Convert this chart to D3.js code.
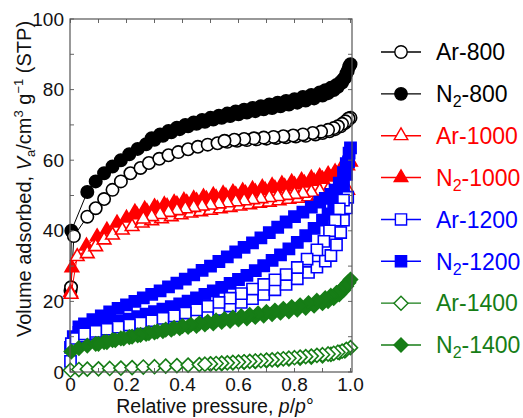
<!DOCTYPE html>
<html><head><meta charset="utf-8">
<script src="https://cdn.jsdelivr.net/npm/d3@7"></script>
<style>body{margin:0;background:#fff}text{font-family:Arial,"Liberation Sans",sans-serif}</style>
</head><body><svg id="c" width="523" height="418"></svg>
<script>
// ---- data ----
const xTicks=[0,0.2,0.4,0.6,0.8,1.0];
const xTickLabels=["0","0.2","0.4","0.6","0.8","1.0"];
const yTicks=[0,20,40,60,80,100];
const yTickLabels=["0","20","40","60","80","100"];
const xMinorTicks=[0,0.1,0.2,0.3,0.4,0.5,0.6,0.7,0.8,0.9,1.0];
const yMinorTicks=[0,10,20,30,40,50,60,70,80,90,100];

const n2_800Ads=[[0.0,23],[0.003,40],[0.06,51],[0.09,54],[0.12,56.3],[0.15,58.2],[0.18,60],[0.21,61.7],[0.24,63.2],[0.27,64.5],[0.3,65.8],[0.33,66.9],[0.36,67.9],[0.39,68.8],[0.42,69.6],[0.45,70.3],[0.48,70.9],[0.51,71.5],[0.54,72],[0.57,72.5],[0.6,73],[0.63,73.5],[0.66,73.9],[0.69,74.4],[0.72,74.8],[0.75,75.3],[0.78,75.8],[0.81,76.3],[0.84,76.9],[0.87,77.5],[0.9,78.3],[0.92,79],[0.94,79.9],[0.955,80.8],[0.97,82],[0.98,83.3],[0.99,85.3],[1.0,87.2]];
const n2_800Des=[[0.995,86.5],[0.985,84.5],[0.975,83],[0.965,82.2],[0.95,81.3],[0.93,80.5],[0.91,79.8],[0.89,79.2],[0.86,78.5],[0.83,77.9],[0.8,77.3],[0.77,76.8],[0.74,76.3],[0.71,75.8],[0.68,75.3],[0.65,74.8],[0.62,74.3],[0.59,73.8],[0.56,73.2],[0.53,72.6],[0.5,72],[0.47,71.4],[0.44,70.7],[0.41,70],[0.38,69.2],[0.35,68.3],[0.32,67.3],[0.29,66.2]];
const ar800Ads=[[0.002,24],[0.012,38.5],[0.06,44],[0.09,46.4],[0.12,49],[0.15,51.6],[0.18,54],[0.214,56.3],[0.25,57.8],[0.28,59.2],[0.317,60.4],[0.35,61.4],[0.385,62.3],[0.42,63.1],[0.455,63.8],[0.49,64.4],[0.525,64.8],[0.56,65.2],[0.595,65.5],[0.63,65.7],[0.665,65.9],[0.7,66.1],[0.735,66.3],[0.77,66.5],[0.805,66.7],[0.84,66.9],[0.875,67.3],[0.9,67.7],[0.925,68.2],[0.945,68.8],[0.965,69.6],[0.98,70.5],[0.99,71.2],[1.0,72]];
const ar800Des=[[0.993,71.8],[0.982,71],[0.97,70.3],[0.955,69.6],[0.94,69.1],[0.92,68.6],[0.895,68.1],[0.865,67.7],[0.83,67.3],[0.795,67],[0.76,66.8],[0.725,66.6],[0.69,66.4],[0.655,66.2],[0.62,66],[0.585,65.8],[0.55,65.5]];

const n2_1000Ads=[[0.0,22.5],[0.005,29.5],[0.057,35.7],[0.095,38.3],[0.13,40.2],[0.166,42.2],[0.2,43.6],[0.237,44.5],[0.273,45.4],[0.31,46.3],[0.345,46.9],[0.38,47.5],[0.415,48],[0.45,48.5],[0.485,49],[0.52,49.4],[0.555,49.8],[0.59,50.2],[0.625,50.6],[0.66,51],[0.695,51.5],[0.73,52],[0.765,52.5],[0.8,53],[0.835,53.5],[0.87,54],[0.9,54.6],[0.925,55.2],[0.95,56],[0.97,57],[0.99,58.4],[1.0,59.5]];
const n2_1000Des=[[0.985,58.6],[0.965,57.5],[0.945,56.7],[0.92,56],[0.89,55.4],[0.86,54.9],[0.825,54.3],[0.79,53.8],[0.755,53.3],[0.72,52.8],[0.685,52.3],[0.65,51.8],[0.615,51.3],[0.58,50.9],[0.545,50.5],[0.51,50.1],[0.475,49.6],[0.44,49.1],[0.405,48.6],[0.37,48],[0.335,47.4],[0.3,46.8],[0.265,46.1],[0.23,45.3]];
const ar1000Ads=[[0.002,22],[0.024,32.7],[0.06,33.5],[0.09,35.5],[0.12,37.4],[0.15,38.8],[0.185,40.2],[0.22,41.2],[0.256,42.2],[0.29,42.8],[0.325,43.4],[0.36,44],[0.395,44.5],[0.43,45],[0.465,45.4],[0.5,45.8],[0.535,46.2],[0.57,46.6],[0.605,47],[0.64,47.4],[0.675,47.8],[0.71,48.1],[0.745,48.5],[0.78,48.9],[0.815,49.2],[0.85,49.6],[0.885,50],[0.915,50.4],[0.945,50.8],[0.97,51.2],[0.99,51.5]];
const ar1000Des=[[0.975,52],[0.95,51.8],[0.92,51.5],[0.89,51.2],[0.86,50.9],[0.83,50.6],[0.8,50.3],[0.77,50],[0.74,49.7],[0.71,49.4],[0.68,49.1],[0.65,48.8],[0.62,48.5],[0.59,48.2],[0.56,47.9],[0.53,47.6],[0.5,47.3],[0.47,47],[0.44,46.6],[0.41,46.2],[0.38,45.7],[0.35,45.2],[0.32,44.6],[0.29,44],[0.26,43.3]];

const n2_1200Ads=[[0.0,7],[0.01,10],[0.03,11.2],[0.06,12],[0.09,12.6],[0.12,13.2],[0.15,13.8],[0.18,14.4],[0.21,15],[0.24,15.7],[0.27,16.4],[0.3,17.1],[0.33,17.8],[0.36,18.5],[0.39,19.3],[0.42,20.1],[0.45,21],[0.48,22],[0.51,23],[0.54,24],[0.57,25.1],[0.6,26.2],[0.63,27.4],[0.66,28.7],[0.69,30.1],[0.72,31.6],[0.75,33.2],[0.78,34.9],[0.81,36.7],[0.84,38.6],[0.87,40.7],[0.9,43],[0.92,44.8],[0.94,47],[0.96,50],[0.975,53],[0.985,56],[0.993,59.5],[1.0,63.5]];
const n2_1200Des=[[0.995,62],[0.985,59],[0.975,56.5],[0.96,53.5],[0.945,51.5],[0.93,50.3],[0.91,49.2],[0.89,48.1],[0.86,46.7],[0.83,45.3],[0.8,44],[0.77,42.5],[0.74,41],[0.71,39.5],[0.68,38],[0.65,36.6],[0.62,35.3],[0.59,34],[0.56,32.6],[0.53,31.3],[0.5,30],[0.47,28.8],[0.44,27.5],[0.41,26.3],[0.38,25.2],[0.35,24.1],[0.32,23],[0.29,22],[0.26,21],[0.23,20],[0.2,19],[0.17,18],[0.14,17],[0.11,15.9],[0.08,14.8],[0.05,13.6],[0.03,12.8]];
const ar1200Ads=[[0.0,3],[0.003,8],[0.02,9.5],[0.05,10.2],[0.09,10.9],[0.13,11.4],[0.17,12],[0.21,12.5],[0.25,13],[0.29,13.5],[0.33,14],[0.37,14.6],[0.41,15.2],[0.45,16],[0.49,16.8],[0.53,17.7],[0.57,18.7],[0.61,19.7],[0.65,20.8],[0.69,22],[0.73,23.3],[0.77,24.8],[0.81,26.4],[0.85,28.2],[0.88,29.7],[0.91,31.4],[0.93,33],[0.95,36],[0.965,39.5],[0.975,43],[0.985,46.5],[0.99,49.5]];
const ar1200Des=[[0.975,48.7],[0.96,46.2],[0.945,43],[0.925,40],[0.905,37],[0.88,34.6],[0.845,32],[0.81,29.6],[0.77,27.6],[0.73,26.1],[0.69,24.8],[0.65,23.5],[0.61,22.2],[0.57,20.9],[0.53,19.7],[0.49,18.6],[0.45,17.6],[0.41,16.7],[0.37,15.9],[0.33,15.2],[0.29,14.5],[0.25,13.9],[0.21,13.3],[0.17,12.7],[0.13,12.1],[0.09,11.5],[0.05,10.8]];

const n2_1400Ads=[[0.003,5.8],[0.03,6.8],[0.06,7.5],[0.09,8],[0.12,8.5],[0.15,9],[0.18,9.5],[0.21,9.9],[0.24,10.4],[0.27,10.8],[0.3,11.2],[0.33,11.6],[0.36,12],[0.39,12.4],[0.42,12.8],[0.45,13.1],[0.48,13.5],[0.51,13.8],[0.54,14.2],[0.57,14.5],[0.6,14.9],[0.63,15.2],[0.66,15.6],[0.69,16],[0.72,16.4],[0.75,16.8],[0.78,17.2],[0.81,17.7],[0.84,18.2],[0.87,18.8],[0.9,19.5],[0.92,20.1],[0.94,20.9],[0.96,22],[0.975,23.2],[0.985,24.3],[0.993,25.3],[1.0,26.2]];
const n2_1400Des=[[0.99,25.3],[0.98,24.3],[0.965,23.2],[0.95,22.4],[0.93,21.6],[0.91,20.9],[0.88,20.2],[0.85,19.5],[0.82,18.9],[0.79,18.4],[0.76,17.9],[0.73,17.4],[0.7,17],[0.67,16.6],[0.64,16.2],[0.61,15.8],[0.58,15.4],[0.55,15],[0.52,14.6],[0.49,14.2],[0.46,13.8],[0.43,13.4],[0.4,13],[0.37,12.5],[0.34,12],[0.31,11.5],[0.28,11],[0.25,10.5],[0.22,10],[0.19,9.5],[0.16,9],[0.13,8.5],[0.1,8]];
const ar1400Ads=[[0.0,0.5],[0.03,0.7],[0.06,0.8],[0.1,0.9],[0.14,1.0],[0.18,1.1],[0.22,1.25],[0.26,1.4],[0.3,1.5],[0.34,1.65],[0.38,1.8],[0.42,1.95],[0.46,2.1],[0.5,2.25],[0.54,2.4],[0.58,2.6],[0.62,2.8],[0.66,3.0],[0.7,3.2],[0.74,3.45],[0.78,3.7],[0.82,3.95],[0.86,4.25],[0.9,4.6],[0.93,5.0],[0.96,5.5],[0.98,6.0],[1.0,6.9]];
const ar1400Des=[[0.985,6.4],[0.97,5.9],[0.955,5.6],[0.94,5.3],[0.92,5.1],[0.9,4.9],[0.88,4.7],[0.86,4.5],[0.84,4.35],[0.82,4.2],[0.8,4.05],[0.78,3.9],[0.76,3.75],[0.74,3.6],[0.72,3.45],[0.7,3.35],[0.68,3.2],[0.66,3.1],[0.64,3.0],[0.62,2.9],[0.6,2.8],[0.58,2.7],[0.56,2.6],[0.54,2.5],[0.52,2.4],[0.5,2.3],[0.48,2.2]];

const seriesNames=["Ar-800","N2-800","Ar-1000","N2-1000","Ar-1200","N2-1200","Ar-1400","N2-1400"];
const seriesColors=["#000000","#000000","#ff0000","#ff0000","#0000ff","#0000ff","#167d16","#167d16"];
const seriesShapes=["circle","circle","triangle","triangle","square","square","diamond","diamond"];
const seriesFilled=[false,true,false,true,false,true,false,true];
const seriesData=[ar800Ads.concat(ar800Des),n2_800Ads.concat(n2_800Des),ar1000Ads.concat(ar1000Des),n2_1000Ads.concat(n2_1000Des),ar1200Ads.concat(ar1200Des),n2_1200Ads.concat(n2_1200Des),ar1400Ads.concat(ar1400Des),n2_1400Ads.concat(n2_1400Des)];
const drawOrder=[1,0,3,2,5,4,7,6];

// ---- chart ----
const svg=d3.select("#c");
const x=d3.scaleLinear().domain([0,1]).range([70.5,350.5]);
const y=d3.scaleLinear().domain([0,100]).range([372,19]);
const frameL=70,frameR=352,frameT=19,frameB=372;

function shapePath(shape){
  if(shape==="circle") return "M6.2,0A6.2,6.2 0 1,1 -6.2,0A6.2,6.2 0 1,1 6.2,0Z";
  if(shape==="square") return "M-5.6,-5.6H5.6V5.6H-5.6Z";
  if(shape==="triangle") return "M0,-7.8L6.8,3.9L-6.8,3.9Z";
  return "M0,-7L7,0L0,7L-7,0Z";
}

const plot=svg.append("g");
const tg=svg.append("g").attr("stroke","#666").attr("stroke-width",1);
xMinorTicks.forEach(t=>{
  tg.append("line").attr("x1",x(t)).attr("x2",x(t)).attr("y1",frameB).attr("y2",frameB-4);
  tg.append("line").attr("x1",x(t)).attr("x2",x(t)).attr("y1",frameT).attr("y2",frameT+4);
});
yMinorTicks.forEach(t=>{
  tg.append("line").attr("y1",y(t)).attr("y2",y(t)).attr("x1",frameL).attr("x2",frameL+4);
  tg.append("line").attr("y1",y(t)).attr("y2",y(t)).attr("x1",frameR).attr("x2",frameR-4);
});

drawOrder.forEach(i=>{
  const g=plot.append("g");
  const d=seriesData[i];
  g.append("path").datum(d).attr("fill","none").attr("stroke",seriesColors[i]).attr("stroke-width",1)
    .attr("d",d3.line().x(p=>x(p[0])).y(p=>y(p[1])));
  g.selectAll("path.m").data(d).join("path").attr("class","m")
    .attr("transform",p=>`translate(${x(p[0])},${y(p[1])})`)
    .attr("d",shapePath(seriesShapes[i]))
    .attr("fill",seriesFilled[i]?seriesColors[i]:"#fff")
    .attr("stroke",seriesColors[i]).attr("stroke-width",1.6);
});

svg.append("rect").attr("x",frameL).attr("y",frameT).attr("width",frameR-frameL).attr("height",frameB-frameT)
  .attr("fill","none").attr("stroke","#555").attr("stroke-width",1.2);

// tick labels
svg.append("g").selectAll("text").data(xTicks).join("text")
  .attr("x",d=>x(d)).attr("y",391).attr("text-anchor","middle").attr("font-size",19).attr("fill","#111")
  .text((d,i)=>xTickLabels[i]);
svg.append("g").selectAll("text").data(yTicks).join("text")
  .attr("x",64).attr("y",d=>y(d)).attr("dy","0.35em").attr("text-anchor","end").attr("font-size",19).attr("fill","#111")
  .text((d,i)=>yTickLabels[i]);

// axis titles
const xt=svg.append("text").attr("x",215).attr("y",413).attr("text-anchor","middle").attr("font-size",19.5).attr("fill","#111");
xt.append("tspan").text("Relative pressure, ");
xt.append("tspan").attr("font-style","italic").text("p");
xt.append("tspan").text("/");
xt.append("tspan").attr("font-style","italic").text("p");
xt.append("tspan").text("°");

const yt=svg.append("text").attr("transform","translate(31,179) rotate(-90)").attr("text-anchor","middle").attr("font-size",20).attr("fill","#111");
yt.append("tspan").text("Volume adsorbed, ");
yt.append("tspan").attr("font-style","italic").text("V");
yt.append("tspan").attr("font-size",13).attr("dy",4).text("a");
yt.append("tspan").attr("dy",-4).text("/cm");
yt.append("tspan").attr("font-size",13).attr("dy",-8).text("3");
yt.append("tspan").attr("dy",8).text(" g");
yt.append("tspan").attr("font-size",13).attr("dy",-8).text("\u22121");
yt.append("tspan").attr("dy",8).text(" (STP)");

// legend
const legY=d3.scaleLinear().domain([0,7]).range([52,345]);
seriesNames.forEach((name,i)=>{
  const g=svg.append("g").attr("transform",`translate(0,${legY(i)})`);
  g.append("line").attr("x1",381).attr("x2",421).attr("y1",0).attr("y2",0).attr("stroke",seriesColors[i]).attr("stroke-width",1.4);
  g.append("path").attr("transform","translate(401,0)").attr("d",shapePath(seriesShapes[i]))
    .attr("fill",seriesFilled[i]?seriesColors[i]:"#fff").attr("stroke",seriesColors[i]).attr("stroke-width",1.4);
  const t=g.append("text").attr("x",436).attr("y",0).attr("dy","0.36em").attr("font-size",23).attr("fill",seriesColors[i]);
  if(name.startsWith("N2")){
    t.append("tspan").text("N");
    t.append("tspan").attr("font-size",16).attr("dy",5).text("2");
    t.append("tspan").attr("dy",-5).text(name.slice(2));
  } else t.text(name);
});
</script></body></html>
